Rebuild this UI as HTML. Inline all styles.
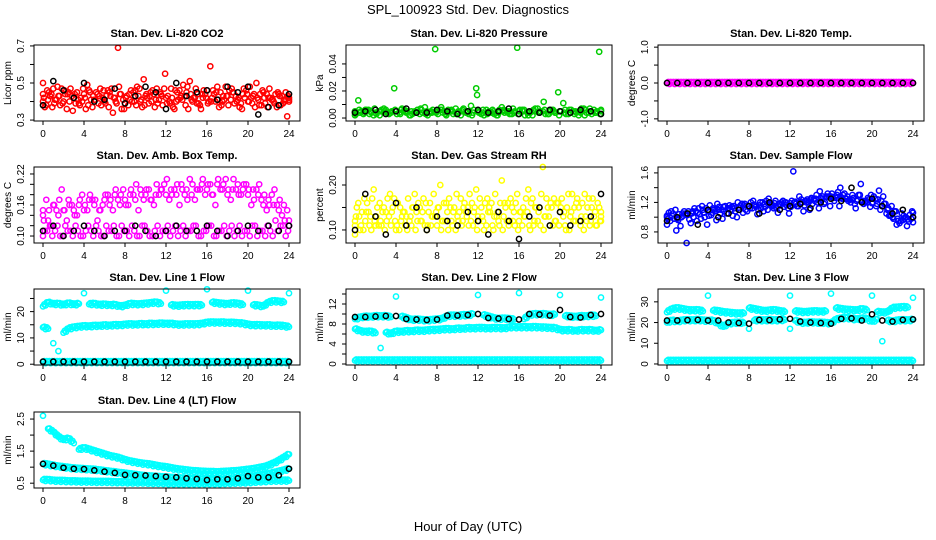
<!DOCTYPE html>
<html><head><meta charset="utf-8"><style>
body{margin:0;background:#fff;}
svg{display:block;font-family:"Liberation Sans",Arial,sans-serif;}
</style></head><body>
<svg id="chart" width="936" height="540" viewBox="0 0 936 540" xmlns="http://www.w3.org/2000/svg">
<rect width="936" height="540" fill="#fff"/>
<text x="468" y="14" text-anchor="middle" font-size="13">SPL_100923  Std. Dev. Diagnostics</text>
<text x="468" y="531" text-anchor="middle" font-size="13">Hour of Day (UTC)</text>
<g id="panels"></g>
</svg>
<script>
// ---- data ----
const xTicks=[0,4,8,12,16,20,24];
const co2A=[0.50,0.38,0.44,0.41,0.47,0.36,0.43,0.45,0.40,0.49,0.37,0.44,0.42,0.46,0.34,0.69,0.41,0.38,0.45,0.43,0.52,0.39,0.44,0.41,0.47,0.40,0.36,0.46,0.43,0.51,0.42,0.38,0.44,0.59,0.40,0.45,0.48,0.41,0.43,0.39,0.46,0.42,0.50,0.38,0.44,0.41,0.37,0.43,0.32];
const co2B=[0.40,0.46,0.37,0.48,0.39,0.44,0.35,0.41,0.47,0.38,0.43,0.39,0.46,0.37,0.42,0.48,0.36,0.44,0.40,0.47,0.38,0.43,0.37,0.45,0.55,0.39,0.46,0.42,0.38,0.44,0.47,0.36,0.42,0.40,0.45,0.38,0.43,0.47,0.40,0.36,0.44,0.39,0.42,0.46,0.37,0.41,0.45,0.39,0.43];
const co2C=[0.44,0.41,0.47,0.43,0.40,0.45,0.42,0.39,0.44,0.46,0.41,0.43,0.40,0.45,0.42,0.44,0.39,0.41,0.46,0.40,0.43,0.45,0.41,0.44,0.42,0.47,0.40,0.43,0.45,0.41,0.39,0.44,0.46,0.42,0.48,0.40,0.43,0.45,0.41,0.44,0.40,0.43,0.41,0.45,0.42,0.40,0.44,0.41,0.42];
const co2D=[0.42,0.45,0.39,0.43,0.46,0.40,0.44,0.38,0.42,0.45,0.41,0.47,0.39,0.43,0.40,0.44,0.42,0.46,0.38,0.41,0.44,0.40,0.47,0.43,0.39,0.42,0.45,0.41,0.48,0.40,0.44,0.42,0.39,0.46,0.41,0.43,0.38,0.45,0.42,0.47,0.40,0.44,0.38,0.42,0.47,0.39,0.43,0.40,0.41];
const co2E=[0.37,0.43,0.41,0.38,0.44,0.47,0.39,0.42,0.36,0.41,0.45,0.38,0.43,0.47,0.39,0.36,0.43,0.40,0.48,0.37,0.42,0.46,0.39,0.38,0.43,0.37,0.41,0.49,0.36,0.42,0.39,0.46,0.40,0.44,0.37,0.41,0.46,0.39,0.37,0.42,0.48,0.37,0.44,0.39,0.42,0.44,0.38,0.45,0.40];
const co2K=[0.38,0.51,0.46,0.42,0.50,0.40,0.41,0.47,0.39,0.43,0.48,0.45,0.36,0.50,0.43,0.45,0.46,0.41,0.48,0.45,0.48,0.33,0.37,0.38,0.44];
const prA=[0.004,0.013,0.003,0.006,0.002,0.005,0.007,0.003,0.022,0.004,0.006,0.002,0.005,0.003,0.008,0.004,0.051,0.006,0.003,0.005,0.007,0.002,0.004,0.009,0.022,0.003,0.006,0.004,0.002,0.008,0.005,0.003,0.052,0.006,0.004,0.002,0.007,0.005,0.003,0.006,0.019,0.011,0.003,0.005,0.002,0.007,0.004,0.006,0.049];
const prB=[0.002,0.006,0.004,0.003,0.007,0.002,0.005,0.004,0.006,0.003,0.005,0.002,0.004,0.007,0.003,0.005,0.004,0.008,0.002,0.006,0.003,0.005,0.004,0.002,0.017,0.004,0.003,0.006,0.002,0.005,0.004,0.007,0.003,0.005,0.002,0.006,0.004,0.012,0.003,0.005,0.002,0.004,0.006,0.003,0.005,0.002,0.007,0.004,0.003];
const prC=[0.005,0.004,0.006,0.005,0.004,0.005,0.006,0.004,0.005,0.006,0.004,0.005,0.004,0.006,0.005,0.004,0.005,0.006,0.004,0.005,0.004,0.006,0.005,0.004,0.005,0.006,0.004,0.005,0.004,0.006,0.005,0.004,0.005,0.006,0.004,0.005,0.004,0.006,0.005,0.004,0.005,0.006,0.004,0.005,0.004,0.006,0.005,0.004,0.005];
const prD=[0.003,0.005,0.006,0.004,0.003,0.006,0.004,0.005,0.003,0.007,0.005,0.003,0.006,0.004,0.002,0.006,0.003,0.004,0.006,0.003,0.005,0.007,0.003,0.006,0.004,0.002,0.005,0.003,0.006,0.004,0.003,0.005,0.006,0.002,0.004,0.007,0.005,0.003,0.006,0.004,0.005,0.003,0.006,0.004,0.007,0.004,0.003,0.005,0.006];
const prK=[0.004,0.005,0.006,0.003,0.005,0.007,0.004,0.004,0.006,0.005,0.003,0.005,0.006,0.004,0.005,0.007,0.003,0.005,0.004,0.006,0.005,0.004,0.006,0.005,0.003];
const tmA=[0,0,0,0,0,0,0,0,0,0,0,0,0,0,0,0,0,0,0,0,0,0,0,0,0,0,0,0,0,0,0,0,0,0,0,0,0,0,0,0,0,0,0,0,0,0,0,0,0];
const tmK=[0,0,0,0,0,0,0,0,0,0,0,0,0,0,0,0,0,0,0,0,0,0,0,0,0];
const abA=[0.14,0.17,0.12,0.15,0.19,0.13,0.16,0.14,0.18,0.15,0.17,0.13,0.16,0.18,0.15,0.17,0.19,0.16,0.18,0.15,0.17,0.19,0.16,0.18,0.20,0.17,0.19,0.16,0.18,0.21,0.17,0.19,0.18,0.20,0.16,0.19,0.21,0.17,0.19,0.18,0.20,0.16,0.19,0.17,0.15,0.18,0.16,0.14,0.15];
const abB=[0.10,0.11,0.10,0.12,0.10,0.11,0.10,0.11,0.10,0.12,0.10,0.11,0.10,0.11,0.12,0.10,0.11,0.10,0.11,0.10,0.12,0.10,0.11,0.10,0.11,0.10,0.12,0.11,0.10,0.11,0.12,0.10,0.11,0.12,0.10,0.11,0.10,0.12,0.11,0.10,0.11,0.12,0.10,0.11,0.12,0.10,0.11,0.12,0.11];
const abC=[0.15,0.13,0.16,0.14,0.15,0.17,0.15,0.16,0.15,0.17,0.16,0.15,0.17,0.16,0.18,0.16,0.17,0.18,0.17,0.19,0.18,0.17,0.18,0.19,0.18,0.19,0.18,0.20,0.19,0.18,0.19,0.20,0.19,0.18,0.20,0.19,0.18,0.19,0.20,0.19,0.18,0.19,0.18,0.16,0.17,0.16,0.15,0.16,0.13];
const abD=[0.13,0.15,0.16,0.17,0.15,0.16,0.14,0.17,0.16,0.18,0.17,0.15,0.18,0.17,0.19,0.18,0.16,0.19,0.20,0.18,0.19,0.17,0.20,0.19,0.21,0.18,0.20,0.19,0.17,0.20,0.19,0.21,0.20,0.18,0.21,0.20,0.19,0.21,0.18,0.20,0.19,0.17,0.20,0.18,0.16,0.19,0.17,0.13,0.12];
const abE=[0.11,0.12,0.11,0.10,0.12,0.11,0.12,0.10,0.11,0.11,0.12,0.10,0.12,0.11,0.10,0.12,0.11,0.12,0.10,0.12,0.11,0.10,0.12,0.11,0.12,0.11,0.10,0.12,0.11,0.12,0.10,0.11,0.12,0.10,0.11,0.12,0.11,0.10,0.12,0.11,0.10,0.12,0.11,0.10,0.11,0.13,0.12,0.10,0.12];
const abK=[0.11,0.12,0.10,0.11,0.12,0.11,0.10,0.11,0.11,0.12,0.11,0.10,0.11,0.12,0.11,0.11,0.12,0.11,0.10,0.11,0.12,0.11,0.12,0.11,0.12];
const rhA=[0.12,0.16,0.10,0.14,0.19,0.11,0.15,0.13,0.17,0.10,0.14,0.12,0.18,0.15,0.11,0.16,0.13,0.20,0.12,0.15,0.10,0.17,0.14,0.12,0.19,0.15,0.11,0.16,0.13,0.21,0.12,0.15,0.18,0.11,0.14,0.17,0.12,0.24,0.15,0.11,0.16,0.13,0.18,0.12,0.15,0.10,0.17,0.13,0.15];
const rhB=[0.09,0.13,0.17,0.11,0.12,0.16,0.10,0.18,0.12,0.15,0.11,0.13,0.10,0.12,0.16,0.11,0.14,0.10,0.16,0.12,0.18,0.11,0.13,0.16,0.10,0.13,0.17,0.11,0.14,0.10,0.16,0.12,0.10,0.15,0.19,0.11,0.14,0.10,0.13,0.17,0.11,0.14,0.10,0.15,0.12,0.18,0.11,0.14,0.12];
const rhC=[0.11,0.10,0.12,0.13,0.11,0.12,0.14,0.11,0.10,0.12,0.13,0.11,0.14,0.12,0.10,0.13,0.11,0.12,0.14,0.11,0.13,0.12,0.15,0.11,0.13,0.12,0.14,0.10,0.12,0.13,0.11,0.14,0.12,0.13,0.11,0.12,0.15,0.13,0.11,0.12,0.14,0.11,0.13,0.12,0.11,0.13,0.12,0.11,0.12];
const rhD=[0.13,0.11,0.14,0.10,0.13,0.11,0.12,0.14,0.11,0.13,0.10,0.15,0.12,0.14,0.11,0.13,0.15,0.12,0.10,0.14,0.12,0.15,0.11,0.14,0.12,0.10,0.15,0.13,0.11,0.16,0.12,0.11,0.14,0.13,0.10,0.15,0.11,0.13,0.16,0.12,0.15,0.10,0.14,0.16,0.13,0.12,0.15,0.11,0.13];
const rhE=[0.15,0.14,0.16,0.17,0.15,0.14,0.17,0.15,0.16,0.14,0.17,0.15,0.16,0.17,0.14,0.18,0.15,0.16,0.17,0.15,0.14,0.16,0.18,0.15,0.17,0.16,0.14,0.18,0.16,0.15,0.17,0.16,0.14,0.17,0.16,0.15,0.18,0.17,0.15,0.16,0.17,0.15,0.18,0.17,0.16,0.15,0.17,0.16,0.14];
const rhK=[0.10,0.18,0.13,0.09,0.16,0.11,0.15,0.10,0.13,0.12,0.11,0.14,0.12,0.09,0.14,0.12,0.08,0.13,0.15,0.11,0.14,0.11,0.12,0.13,0.18];
const sfA=[1.02,0.95,1.10,0.88,1.05,0.92,1.08,0.98,1.12,1.03,0.96,1.10,1.05,1.14,1.00,1.18,1.08,1.12,1.04,1.20,1.10,1.15,1.06,1.22,1.12,1.62,1.15,1.08,1.20,1.25,1.12,1.18,1.28,1.22,1.15,1.32,1.24,1.18,1.30,1.20,1.14,1.25,1.10,1.18,1.02,1.08,0.95,1.00,0.98];
const sfB=[0.90,1.08,0.82,1.00,0.65,1.05,0.95,1.15,0.90,1.06,1.18,0.98,1.12,1.02,1.20,1.06,1.15,1.22,1.10,1.08,1.25,1.12,1.18,1.14,1.05,1.20,1.28,1.16,1.10,1.22,1.35,1.20,1.15,1.28,1.40,1.25,1.20,1.12,1.45,1.22,1.30,1.15,1.22,1.05,1.15,0.90,1.05,0.88,1.08];
const sfC=[1.00,1.02,0.98,1.05,1.03,1.08,1.06,1.10,1.08,1.12,1.10,1.14,1.12,1.15,1.13,1.16,1.15,1.17,1.16,1.18,1.17,1.19,1.18,1.20,1.19,1.21,1.20,1.22,1.24,1.25,1.26,1.27,1.28,1.26,1.27,1.25,1.24,1.22,1.21,1.20,1.19,1.18,1.15,1.10,1.00,0.98,0.96,0.97,1.00];
const sfD=[0.98,1.05,0.96,1.02,1.08,1.00,1.12,1.06,1.02,1.10,1.14,1.08,1.16,1.12,1.10,1.18,1.12,1.16,1.20,1.14,1.18,1.22,1.16,1.20,1.14,1.18,1.24,1.20,1.26,1.30,1.24,1.28,1.32,1.30,1.25,1.28,1.30,1.24,1.22,1.26,1.20,1.24,1.28,1.12,0.98,0.95,1.02,0.94,1.06];
const sfE=[1.06,0.98,1.04,1.08,0.97,1.12,1.04,1.00,1.16,1.08,1.05,1.15,1.10,1.08,1.16,1.10,1.20,1.14,1.12,1.22,1.16,1.12,1.20,1.16,1.22,1.15,1.20,1.24,1.18,1.20,1.28,1.32,1.26,1.34,1.30,1.22,1.26,1.30,1.18,1.24,1.28,1.36,1.18,1.02,1.08,0.92,0.98,1.03,0.93];
const sfK=[0.95,1.00,1.05,0.90,1.10,1.00,1.05,1.10,1.15,1.05,1.20,1.10,1.15,1.18,1.12,1.20,1.25,1.22,1.40,1.20,1.25,1.15,1.05,1.10,1.00];
const l1U=[22,23.5,22.8,23,22.5,23.2,22.6,23,27,22.8,23,22.5,22.7,22.4,22.6,22,22.2,23,22.8,22.8,23,23.2,23.5,23,28,22.5,22.2,22.3,22.5,22.4,22.5,22.4,28.5,23.5,23.2,23,22.8,23.2,23,22.6,28,22.5,22.3,22.0,23.5,24,23.8,23.6,27];
const l1M=[14,13.5,8,5,12,13.5,14,14.2,14.5,14.3,14.6,14.5,14.8,14.6,14.9,14.8,15,15.2,15,15.3,15.1,15.4,15.2,15.5,15.3,15.4,15.1,15.0,15.2,15.1,15.2,15.3,15.8,15.9,15.8,15.9,15.7,15.8,15.6,15.5,15.0,14.8,14.9,14.7,14.8,14.6,14.7,14.5,14.2];
const l1L=[0.8,0.8,0.8,0.8,0.8,0.8,0.8,0.8,0.8,0.8,0.8,0.8,0.8,0.8,0.8,0.8,0.8,0.8,0.8,0.8,0.8,0.8,0.8,0.8,0.8,0.8,0.8,0.8,0.8,0.8,0.8,0.8,0.8,0.8,0.8,0.8,0.8,0.8,0.8,0.8,0.8,0.8,0.8,0.8,0.8,0.8,0.8,0.8,0.8];
const l1K=[1,1,1,1,1,1,1,1,1,1,1,1,1,1,1,1,1,1,1,1,1,1,1,1,1];
const l2U=[9.0,9.3,9.5,9.4,9.6,9.5,9.6,9.4,13.5,9.5,9.2,8.8,8.9,8.8,8.7,8.8,8.9,9.0,9.6,9.7,9.6,9.8,9.7,10.0,13.8,9.8,9.5,9.2,9.0,9.1,9.0,8.9,14.2,9.0,9.8,10.0,9.9,10.0,9.8,9.9,13.8,9.6,9.5,9.4,9.6,9.5,9.7,9.6,13.3];
const l2M=[7.0,6.6,6.4,6.5,6.2,3.2,6.3,6.0,6.5,6.4,6.6,6.5,6.7,6.6,6.7,6.8,6.8,6.9,7.0,6.9,7.1,7.0,7.2,7.1,7.2,7.2,7.1,7.2,7.2,7.1,7.3,7.4,7.3,7.4,7.3,7.4,7.3,7.3,7.2,7.2,6.8,6.7,6.8,6.6,6.8,6.7,6.8,6.6,6.8];
const l2L=[0.7,0.7,0.7,0.7,0.7,0.7,0.7,0.7,0.7,0.7,0.7,0.7,0.7,0.7,0.7,0.7,0.7,0.7,0.7,0.7,0.7,0.7,0.7,0.7,0.7,0.7,0.7,0.7,0.7,0.7,0.7,0.7,0.7,0.7,0.7,0.7,0.7,0.7,0.7,0.7,0.7,0.7,0.7,0.7,0.7,0.7,0.7,0.7,0.7];
const l2K=[9.4,9.4,9.5,9.6,9.6,9.0,8.9,8.8,8.9,9.7,9.7,9.8,10.0,9.2,9.1,9.0,8.9,10.0,9.9,9.7,10.8,9.4,9.3,9.8,10.0];
const l3U=[25,26.5,27,26.5,26,25.8,26,25.5,33,25.8,25.5,25,24.8,24.5,24.3,24.5,27,26.5,26,25.5,25.8,26,25.5,25.2,33,25.5,25.2,25,25.3,25.5,25.2,25.5,34,27,26.5,26.2,26,25.8,26.5,26,33,25.2,24.8,25,27,27.2,27.5,27.3,32];
const l3M=[20,21,20.5,21,21.2,21,21.3,21,20.8,21,19.5,18,19.5,19.8,20,19.8,17,21,21.2,21,21.3,21,21.2,21.3,17,21,20,19.8,20.2,19.9,20,19.8,19.5,21.5,22,22.3,21.8,21.5,22,21.8,20.5,21.5,11,21,20.5,21,21.2,21,21.4];
const l3L=[1.5,1.5,1.5,1.5,1.5,1.5,1.5,1.5,1.5,1.5,1.5,1.5,1.5,1.5,1.5,1.5,1.5,1.5,1.5,1.5,1.5,1.5,1.5,1.5,1.5,1.5,1.5,1.5,1.5,1.5,1.5,1.5,1.5,1.5,1.5,1.5,1.5,1.5,1.5,1.5,1.5,1.5,1.5,1.5,1.5,1.5,1.5,1.5,1.5];
const l3K=[21,21,21.2,21.3,21,21,20,19.8,19.5,21.3,21.2,21.5,21.8,20.5,20,19.8,19.5,21.8,22,21,24,21,20.5,21.3,21.5];
const l4U=[2.6,2.2,2.1,1.95,1.85,1.9,1.75,1.55,1.6,1.55,1.5,1.45,1.4,1.35,1.32,1.28,1.22,1.18,1.15,1.12,1.1,1.08,1.05,1.02,1.0,0.97,0.94,0.92,0.9,0.88,0.87,0.86,0.85,0.85,0.84,0.85,0.86,0.87,0.88,0.9,0.92,0.94,0.97,1.0,1.05,1.12,1.2,1.3,1.4];
const l4M=[1.1,1.08,1.05,1.02,1.0,0.98,0.96,0.95,0.94,0.93,0.92,0.9,0.88,0.86,0.84,0.82,0.8,0.78,0.76,0.74,0.72,0.71,0.7,0.69,0.68,0.67,0.66,0.65,0.64,0.63,0.62,0.62,0.61,0.61,0.6,0.6,0.61,0.62,0.63,0.65,0.67,0.69,0.72,0.75,0.78,0.82,0.86,0.9,0.95];
const l4L=[0.6,0.6,0.58,0.57,0.57,0.56,0.56,0.55,0.55,0.55,0.54,0.54,0.54,0.54,0.53,0.53,0.53,0.52,0.52,0.52,0.52,0.51,0.51,0.51,0.5,0.5,0.5,0.5,0.5,0.5,0.5,0.5,0.5,0.5,0.5,0.5,0.51,0.51,0.52,0.52,0.53,0.54,0.55,0.56,0.57,0.58,0.58,0.58,0.58];
const l4K=[1.1,1.05,0.98,0.95,0.94,0.9,0.86,0.82,0.76,0.75,0.74,0.72,0.7,0.68,0.65,0.63,0.6,0.62,0.62,0.65,0.72,0.68,0.68,0.75,0.95];

const panels=[
 {name:'co2',title:'Stan. Dev. Li-820 CO2',ylab:'Licor ppm',col:0,row:0,band:false,lim:[0.295,0.705],ticks:[0.3,0.4,0.5,0.6,0.7],labels:['0.3','','0.5','','0.7'],series:[[co2A,'#ff0000'],[co2B,'#ff0000'],[co2C,'#ff0000'],[co2D,'#ff0000'],[co2E,'#ff0000'],[co2K,'#000']]},
 {name:'pressure',title:'Stan. Dev. Li-820 Pressure',ylab:'kPa',col:1,row:0,band:false,lim:[-0.0022,0.054],ticks:[0,0.01,0.02,0.03,0.04],labels:['0.00','','0.02','','0.04'],series:[[prA,'#00cc00'],[prB,'#00cc00'],[prC,'#00cc00'],[prD,'#00cc00'],[prK,'#000']]},
 {name:'temp',title:'Stan. Dev. Li-820 Temp.',ylab:'degrees C',col:2,row:0,band:true,lim:[-1.06,1.06],ticks:[-1,-0.5,0,0.5,1],labels:['-1.0','','0.0','','1.0'],series:[[tmA,'#ff00ff'],[tmK,'#000']]},
 {name:'amb-box-temp',title:'Stan. Dev. Amb. Box Temp.',ylab:'degrees C',col:0,row:1,band:false,lim:[0.0865,0.2335],ticks:[0.1,0.12,0.14,0.16,0.18,0.2,0.22],labels:['0.10','','','0.16','','','0.22'],series:[[abA,'#ff00ff'],[abB,'#ff00ff'],[abC,'#ff00ff'],[abD,'#ff00ff'],[abE,'#ff00ff'],[abK,'#000']]},
 {name:'gas-rh',title:'Stan. Dev. Gas Stream RH',ylab:'percent',col:1,row:1,band:false,lim:[0.071,0.24],ticks:[0.1,0.15,0.2],labels:['0.10','','0.20'],series:[[rhA,'#ffff00'],[rhB,'#ffff00'],[rhC,'#ffff00'],[rhD,'#ffff00'],[rhE,'#ffff00'],[rhK,'#000']]},
 {name:'sample-flow',title:'Stan. Dev. Sample Flow',ylab:'ml/min',col:2,row:1,band:false,lim:[0.65,1.68],ticks:[0.8,1.0,1.2,1.4,1.6],labels:['0.8','','1.2','','1.6'],series:[[sfA,'#0000ff'],[sfB,'#0000ff'],[sfC,'#0000ff'],[sfD,'#0000ff'],[sfE,'#0000ff'],[sfK,'#000']]},
 {name:'line1-flow',title:'Stan. Dev. Line 1 Flow',ylab:'ml/min',col:0,row:2,band:true,lim:[-0.3,28.6],ticks:[0,5,10,15,20,25],labels:['0','','10','','20',''],series:[[l1U,'#00ffff'],[l1M,'#00ffff'],[l1L,'#00ffff'],[l1K,'#000']]},
 {name:'line2-flow',title:'Stan. Dev. Line 2 Flow',ylab:'ml/min',col:1,row:2,band:true,lim:[-0.2,15],ticks:[0,2,4,6,8,10,12,14],labels:['0','','4','','8','','12',''],series:[[l2U,'#00ffff'],[l2M,'#00ffff'],[l2L,'#00ffff'],[l2K,'#000']]},
 {name:'line3-flow',title:'Stan. Dev. Line 3 Flow',ylab:'ml/min',col:2,row:2,band:true,lim:[-0.5,36.2],ticks:[0,10,20,30],labels:['0','10','20','30'],series:[[l3U,'#00ffff'],[l3M,'#00ffff'],[l3L,'#00ffff'],[l3K,'#000']]},
 {name:'line4-flow',title:'Stan. Dev. Line 4 (LT) Flow',ylab:'ml/min',col:0,row:3,band:true,lim:[0.35,2.72],ticks:[0.5,1.0,1.5,2.0,2.5],labels:['0.5','','1.5','','2.5'],series:[[l4U,'#00ffff'],[l4M,'#00ffff'],[l4L,'#00ffff'],[l4K,'#000']]}
];
const rowY=[45,167,289,412];
const NS='http://www.w3.org/2000/svg';
const root=document.getElementById('panels');
function mk(tag,attrs,parent){const e=document.createElementNS(NS,tag);for(const k in attrs)e.setAttribute(k,attrs[k]);parent.appendChild(e);return e;}
panels.forEach(p=>{
 const x0=34+p.col*312, y0=rowY[p.row], W=266, H=76;
 const g=mk('g',{},root);
 
 
 const xs=h=>x0+9+h/24*246;
 const ys=v=>y0+H-(v-p.lim[0])/(p.lim[1]-p.lim[0])*H;
 const t=mk('text',{x:x0+W/2,y:y0-8,'text-anchor':'middle','font-size':'11','font-weight':'bold'},g);
 t.textContent=p.title;
 
 
 p.series.forEach((s,si)=>{
  const vals=s[0],n=vals.length,black=s[1]==='#000';
  const step=24/(n-1);
  const off=(!p.band&&!black)?((si%5)*0.2-0.4)*step*0.9:0;
  const sg=mk('g',{fill:'none',stroke:s[1],'stroke-width':'1.5'},g);
  
  
  if(p.band&&!black){
   for(let i=0;i<n-1;i++){
    const xa=xs(i*step),xb=xs((i+1)*step),ya=ys(vals[i]),yb=ys(vals[i+1]);
    if(Math.abs(ya-yb)<5){
     [0.25,0.5,0.75].forEach(f=>{
      const c=mk('circle',{cx:(xa+(xb-xa)*f).toFixed(1),cy:(ya+(yb-ya)*f+(f===0.5?1:-1)).toFixed(1),r:'2.6'},sg);
      
      
     });
    }
   }
  }
  vals.forEach((v,i)=>{
   const h=Math.min(24,Math.max(0,i*step+off));
   const c=mk('circle',{cx:xs(h).toFixed(1),cy:ys(v).toFixed(1),r:'2.6'},sg);
   
   
  });
 });
 const box=mk('rect',{x:x0,y:y0,width:W,height:H,fill:'none',stroke:'#000','stroke-width':'1'},g);
 
 
 xTicks.forEach(h=>{
  mk('line',{x1:xs(h),x2:xs(h),y1:y0+H,y2:y0+H+4,stroke:'#000'},g);
  const l=mk('text',{x:xs(h),y:y0+H+16,'text-anchor':'middle','font-size':'10'},g);
  l.textContent=h;
  
  
 });
 p.ticks.forEach((v,i)=>{
  mk('line',{x1:x0-4,x2:x0,y1:ys(v),y2:ys(v),stroke:'#000'},g);
  if(p.labels[i]){
   const yy=ys(v);
   const l=mk('text',{x:x0-10,y:yy,'text-anchor':'middle','font-size':'10',transform:`rotate(-90 ${x0-10} ${yy})`},g);
   l.textContent=p.labels[i];
   
   
  }
 });
 const yl=mk('text',{x:x0-23,y:y0+H/2,'text-anchor':'middle','font-size':'10',transform:`rotate(-90 ${x0-23} ${y0+H/2})`},g);
 yl.textContent=p.ylab;
 
 
});
</script>
</body></html>
